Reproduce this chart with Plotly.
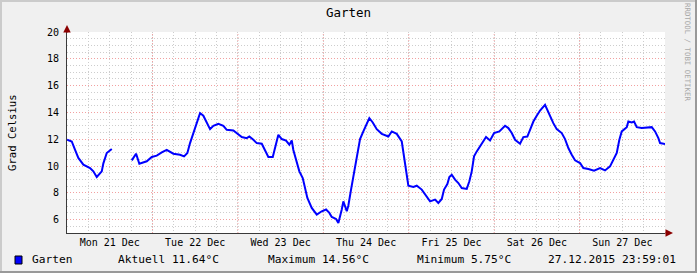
import datetime as dt
import plotly.graph_objects as go

# ---------------- data ----------------
title = "Garten"
series_name = "Garten"
y_title = "Grad Celsius"
watermark = "RRDTOOL / TOBI OETIKER"
timestamp_text = "27.12.2015 23:59:01"
unit = "°C"

base_time = dt.datetime(2015, 12, 21, 0, 0, 0)
range_start = "2015-12-20 23:59:01"
range_end = "2015-12-27 23:59:01"

# hours since Mon 21 Dec 00:00 (None = gap in the data)
hours = [0, 1.32, 2.25, 3.17, 4.58, 6.46, 7.39, 8.34, 9.75, 10.2, 11.15, 12.56,
         None,
         18.18, 19.38, 20.31, 22.39, 23.8, 25.2, 26.6, 28.0, 29.86, 31.74, 32.87,
         33.8, 34.55, 35.48, 36.44, 37.36, 38.29, 39.05, 40.17, 41.1, 42.5, 43.91,
         44.86, 46.72, 48.12, 49.08, 50.48, 51.21, 52.34, 53.29, 54.7, 55.63,
         56.55, 57.79, 58.43, 59.36, 60.32, 61.52, 62.45, 63.13, 63.57, 64.53,
         65.26, 66.21, 66.86, 67.51, 68.74, 70.15, 71.55, 72.76, 73.69, 74.36,
         75.57, 76.22, 77.17, 77.62, 78.58, 79.02, 79.78, 80.9, 81.55, 82.31,
         83.24, 84.0, 84.92, 85.88, 87.0, 88.41, 90.26, 91.22, 92.62, 94.03,
         94.67, 95.23, 95.88, 97.29, 98.24, 99.65, 101.05, 101.98, 103.38,
         104.31, 105.27, 105.91, 106.84, 107.4, 108.07, 109.0, 109.93, 110.88,
         112.29, 113.02, 113.69, 114.34, 115.1, 115.83, 116.78, 117.71, 118.83,
         119.96, 121.45, 123.05, 123.98, 124.93, 125.86, 127.26, 128.19, 129.31,
         130.07, 131.0, 131.95, 132.88, 134.28, 134.93, 135.69, 136.61, 137.57,
         138.97, 139.9, 140.83, 141.78, 142.71, 144.12, 145.04, 146.45, 148.05,
         149.74, 151.14, 152.54, 153.47, 154.43, 155.16, 155.83, 157.24, 157.69,
         158.64, 159.29, 160.05, 161.45, 164.26, 165.19, 166.12, 166.6, 168.0]

temps = [11.96, 11.83, 11.2, 10.6, 10.1, 9.85, 9.6, 9.18, 9.6, 10.2, 10.97, 11.27,
         None,
         10.42, 10.92, 10.17, 10.35, 10.67, 10.77, 11.01, 11.2, 10.92, 10.84, 10.72,
         10.97, 11.71, 12.46, 13.32, 13.95, 13.75, 13.3, 12.75, 13.0, 13.15, 13.0,
         12.7, 12.65, 12.38, 12.16, 12.08, 12.2, 11.96, 11.71, 11.66, 11.2,
         10.67, 10.67, 11.27, 12.33, 12.01, 11.9, 11.59, 11.9, 11.2, 10.35,
         9.6, 9.1, 8.44, 7.62, 6.87, 6.37, 6.62, 6.75, 6.5, 6.2,
         6.05, 5.75, 6.75, 7.36, 6.62, 7.04, 8.24, 9.85, 10.97, 12.01,
         12.58, 13.0, 13.57, 13.25, 12.75, 12.4, 12.2, 12.58, 12.4, 11.83,
         10.6, 9.72, 8.53, 8.44, 8.53, 8.24, 7.74, 7.36, 7.49,
         7.24, 7.54, 8.24, 8.65, 9.18, 9.35, 8.98, 8.73, 8.36,
         8.29, 8.86, 9.6, 10.72, 11.09, 11.42, 11.76, 12.16, 11.9,
         12.46, 12.58, 13.0, 12.83, 12.46, 11.96, 11.66, 12.16, 12.2,
         12.7, 13.32, 13.75, 14.14, 14.56, 14.14, 13.7, 13.2, 12.75,
         12.46, 12.01, 11.34, 10.84, 10.42, 10.22, 9.85, 9.78, 9.65,
         9.85, 9.67, 9.97, 10.42, 10.97, 11.96, 12.58, 12.9, 13.32,
         13.25, 13.32, 12.9, 12.83, 12.9, 12.58, 12.08, 11.71, 11.64]

day_labels = ["Mon 21 Dec", "Tue 22 Dec", "Wed 23 Dec", "Thu 24 Dec",
              "Fri 25 Dec", "Sat 26 Dec", "Sun 27 Dec"]
y_ticks = [6, 8, 10, 12, 14, 16, 18, 20]
y_range = [5, 20]

# ---------------- derived ----------------
times = [None if h is None else base_time + dt.timedelta(hours=h) for h in hours]
valid = [v for v in temps if v is not None]
current_v = valid[-1]
max_v = max(valid)
min_v = min(valid)

noon_ticks = [base_time + dt.timedelta(days=i, hours=12) for i in range(len(day_labels))]
midnights = [base_time + dt.timedelta(days=i) for i in range(1, len(day_labels))]

# ---------------- layout geometry ----------------
FW, FH = 697, 273
L, R, T, B = 67, 32, 32, 40
PW, PH = FW - L - R, FH - T - B


def fx(px):
    return (px - L) / PW


def fy(py):
    return (T + PH - py) / PH


FONT = "DejaVu Sans Mono"
MGRID = "#f2a0a0"
GRID = "#cdcdcd"
DASH = "1px,2px"
AXIS = "#3a3a3a"
ARROW = "#8b0000"

fig = go.Figure()
fig.add_trace(go.Scatter(
    x=times, y=temps, mode="lines", name=series_name,
    line=dict(color="#0000ff", width=2), connectgaps=False,
    showlegend=False, hoverinfo="skip"))

shapes = []
# major (midnight) vertical grid
for m in midnights:
    shapes.append(dict(type="line", xref="x", yref="paper", x0=m, x1=m, y0=0, y1=1,
                       line=dict(color=MGRID, width=1, dash=DASH), layer="below"))
# legend colour box
shapes.append(dict(type="rect", xref="paper", yref="paper",
                   x0=fx(15), x1=fx(22), y0=fy(264), y1=fy(256),
                   fillcolor="#0000ff", line=dict(color="#000000", width=1)))
# 3D frame
shapes.append(dict(type="rect", xref="paper", yref="paper",
                   x0=fx(0), x1=fx(FW), y0=fy(FH), y1=fy(FH - 2),
                   fillcolor="#999999", line=dict(width=0)))
shapes.append(dict(type="rect", xref="paper", yref="paper",
                   x0=fx(FW - 2), x1=fx(FW), y0=fy(FH), y1=fy(0),
                   fillcolor="#999999", line=dict(width=0)))
shapes.append(dict(type="rect", xref="paper", yref="paper",
                   x0=fx(0), x1=fx(FW - 2), y0=fy(2), y1=fy(0),
                   fillcolor="#cbcbcb", line=dict(width=0)))
shapes.append(dict(type="rect", xref="paper", yref="paper",
                   x0=fx(0), x1=fx(2), y0=fy(FH - 2), y1=fy(0),
                   fillcolor="#cbcbcb", line=dict(width=0)))

annotations = []
# axis arrows
annotations.append(dict(xref="paper", yref="paper", x=fx(673), y=0, ax=-9, ay=0,
                        axref="pixel", ayref="pixel", text="", showarrow=True,
                        arrowhead=2, arrowsize=1, arrowwidth=1.5, arrowcolor=ARROW))
annotations.append(dict(xref="paper", yref="paper", x=0, y=fy(25), ax=0, ay=9,
                        axref="pixel", ayref="pixel", text="", showarrow=True,
                        arrowhead=2, arrowsize=1, arrowwidth=1.5, arrowcolor=ARROW))
# y title
annotations.append(dict(xref="paper", yref="paper", x=fx(12), y=fy(133),
                        text=y_title, textangle=-90, showarrow=False,
                        font=dict(family=FONT, size=10.6, color="#000"),
                        xanchor="center", yanchor="middle"))
# watermark
annotations.append(dict(xref="paper", yref="paper", x=fx(688), y=fy(52),
                        text=watermark, textangle=90, showarrow=False,
                        font=dict(family=FONT, size=7.4, color="#a8a8a8"),
                        xanchor="center", yanchor="middle"))
# legend row
legend_items = [
    (30, series_name),
    (116, f"Aktuell {current_v:.2f}{unit}"),
    (266, f"Maximum {max_v:.2f}{unit}"),
    (415, f"Minimum {min_v:.2f}{unit}"),
    (546, timestamp_text),
]
for px, txt in legend_items:
    annotations.append(dict(xref="paper", yref="paper", x=fx(px), y=fy(259.5),
                            text=txt, showarrow=False, xanchor="left", yanchor="middle",
                            font=dict(family=FONT, size=11.2, color="#000")))

fig.update_layout(
    width=FW, height=FH,
    margin=dict(l=L, r=R, t=T, b=B, pad=0),
    paper_bgcolor="#f0f0f0", plot_bgcolor="#ffffff",
    title=dict(text=title, x=0.5, xref="container", xanchor="center",
               y=1 - 13 / FH, yanchor="middle",
               font=dict(family=FONT, size=12.5, color="#000")),
    font=dict(family=FONT, size=10, color="#000"),
    shapes=shapes, annotations=annotations, showlegend=False,
    xaxis=dict(type="date", range=[range_start, range_end],
               tickmode="array", tickvals=noon_ticks, ticktext=day_labels,
               ticks="", showgrid=True, gridcolor=GRID, griddash=DASH, gridwidth=1,
               minor=dict(tick0="2015-12-21", dtick=6 * 3600 * 1000, showgrid=True,
                          gridcolor=GRID, griddash=DASH, gridwidth=1, ticks=""),
               showline=True, linecolor=AXIS, linewidth=1, zeroline=False,
               tickfont=dict(family=FONT, size=10, color="#000"), fixedrange=True),
    yaxis=dict(range=y_range, tickmode="array", tickvals=y_ticks,
               ticks="", showgrid=True, gridcolor=MGRID, griddash=DASH, gridwidth=1,
               minor=dict(dtick=0.5, tick0=0, showgrid=True, gridcolor=GRID,
                          griddash=DASH, gridwidth=1, ticks=""),
               showline=True, linecolor=AXIS, linewidth=1, zeroline=False,
               ticklabelstandoff=5,
               tickfont=dict(family=FONT, size=10, color="#000"), fixedrange=True),
)

fig.write_html("out.html")
